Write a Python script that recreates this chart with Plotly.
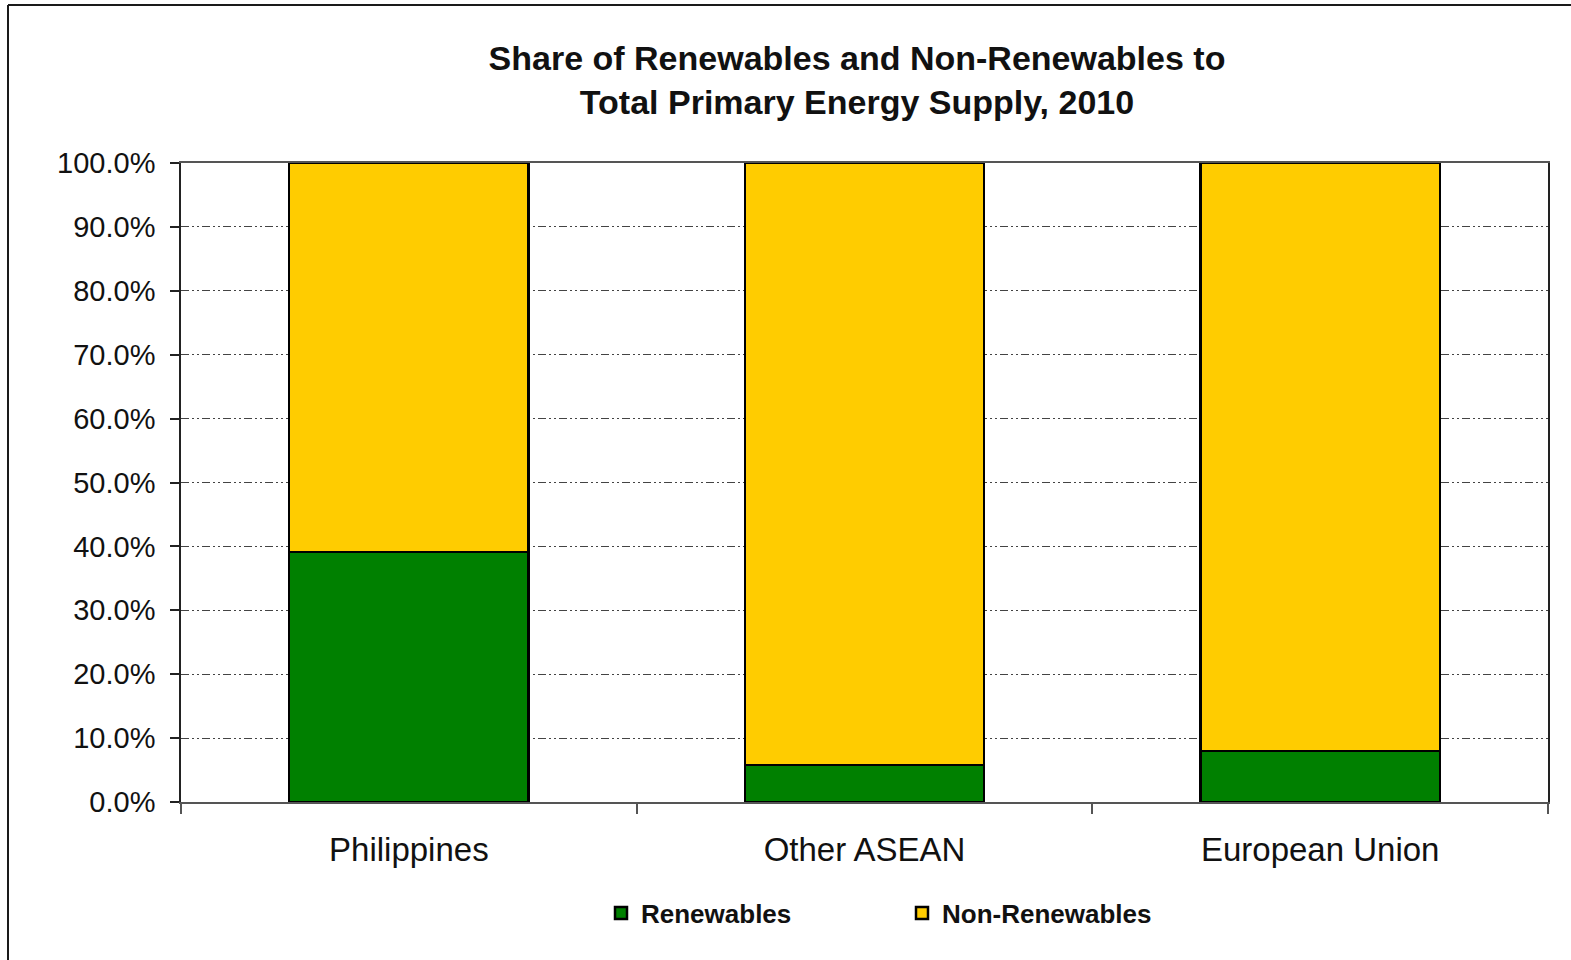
import plotly.graph_objects as go

# Share of total primary energy supply, 2010 (percent)
regions = ["Philippines", "Other ASEAN", "European Union"]
renewables = [39.1, 5.8, 8.0]
non_renewables = [60.9, 94.2, 92.0]
y_ticks = [0, 10, 20, 30, 40, 50, 60, 70, 80, 90, 100]

GREEN = "#008000"
YELLOW = "#FFCC00"
FONT = "Liberation Sans, Arial, sans-serif"

W, H = 1571, 960
L, R, T, B = 181, 23, 163, 158

fig = go.Figure()
fig.add_trace(go.Bar(
    name="Renewables", x=regions, y=renewables,
    marker=dict(color=GREEN, line=dict(color="black", width=2.5)),
))
fig.add_trace(go.Bar(
    name="Non-Renewables", x=regions, y=non_renewables,
    marker=dict(color=YELLOW, line=dict(color="black", width=2.5)),
))

# outer frame of the chart (left and top edges)
pw, ph = W - L - R, H - T - B
def px_x(v):
    return (v - L) / pw
def px_y(v):
    return (H - B - v) / ph

frame = dict(type="line", xref="paper", yref="paper",
             line=dict(color="#1a1a1a", width=2), layer="above")
fig.add_shape(x0=px_x(8), x1=px_x(8), y0=px_y(5), y1=px_y(H + 5), **frame)
fig.add_shape(x0=px_x(8), x1=px_x(W + 5), y0=px_y(5), y1=px_y(5), **frame)

fig.update_layout(
    width=W, height=H,
    barmode="stack",
    bargap=0.475,
    margin=dict(l=L, r=R, t=T, b=B, pad=0),
    paper_bgcolor="white",
    plot_bgcolor="white",
    font=dict(family=FONT, color="#111111"),
    title=dict(
        text="<b>Share of Renewables and Non-Renewables to<br>Total Primary Energy Supply, 2010</b>",
        x=857 / W, xanchor="center",
        y=1 - 70 / H, yanchor="middle",
        font=dict(family=FONT, size=34, color="#111111"),
    ),
    showlegend=True,
    legend=dict(
        orientation="h",
        x=px_x(902), xanchor="center",
        y=px_y(913), yanchor="middle",
        entrywidth=256, entrywidthmode="pixels",
        font=dict(family=FONT, size=26, color="#111111", weight="bold"),
        traceorder="normal",
        bgcolor="rgba(0,0,0,0)",
    ),
    xaxis=dict(
        type="category",
        showgrid=False,
        showline=True, linecolor="#555555", linewidth=2,
        mirror=True,
        ticks="outside", tickson="boundaries", ticklen=10,
        tickcolor="#555555", tickwidth=1.5,
        tickfont=dict(family=FONT, size=33, color="#111111"),
        ticklabelstandoff=17,
    ),
    yaxis=dict(
        range=[0, 100],
        tickmode="array",
        tickvals=y_ticks,
        ticktext=[f"{v:.1f}%" for v in y_ticks],
        showgrid=True, gridcolor="#444444", gridwidth=1,
        griddash="8px,3px,2px,3px,2px,3px",
        showline=True, linecolor="#222222", linewidth=1.5,
        mirror=True,
        ticks="outside", ticklen=9, tickcolor="#222222", tickwidth=1.5,
        tickfont=dict(family=FONT, size=29, color="#111111"),
        ticklabelstandoff=9,
        zeroline=False,
    ),
)

fig.write_html("out.html")
